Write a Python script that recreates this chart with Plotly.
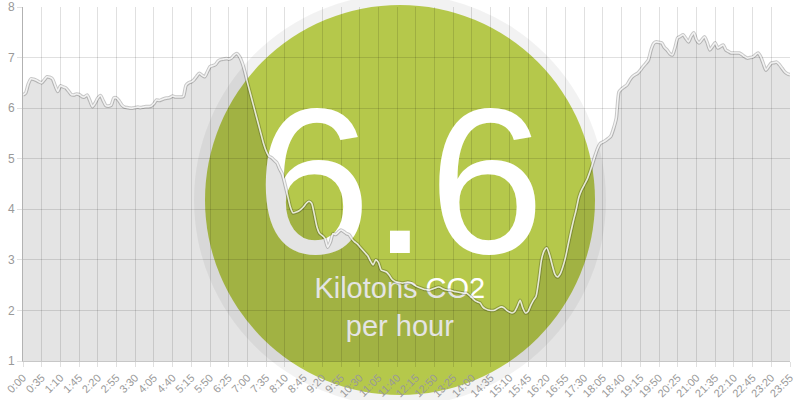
import plotly.graph_objects as go

# ---- data ----
times = [f"{m // 60}:{m % 60:02d}" for m in range(0, 24 * 60, 5)]

emissions = [
    6.26, 6.30, 6.48, 6.58, 6.57, 6.55, 6.52, 6.50, 6.56, 6.62, 6.61, 6.58,
    6.45, 6.33, 6.44, 6.42, 6.40, 6.34, 6.27, 6.26, 6.28, 6.27, 6.23, 6.22,
    6.26, 6.15, 6.03, 6.10, 6.20, 6.25, 6.15, 6.05, 6.04, 6.06, 6.20, 6.20,
    6.14, 6.06, 6.02, 6.01, 6.00, 6.00, 6.01, 6.02, 6.01, 6.02, 6.03, 6.03,
    6.04, 6.09, 6.16, 6.15, 6.17, 6.19, 6.20, 6.21, 6.24, 6.22, 6.22, 6.22,
    6.23, 6.45, 6.50, 6.52, 6.56, 6.63, 6.69, 6.65, 6.62, 6.72, 6.82, 6.84,
    6.86, 6.93, 6.96, 6.97, 6.98, 6.97, 6.99, 7.05, 7.08, 7.02, 6.90, 6.72,
    6.50, 6.30, 6.10, 5.90, 5.70, 5.50, 5.30, 5.15, 5.05, 5.02, 4.97, 4.92,
    4.80, 4.70, 4.50, 4.28, 4.05, 3.93, 3.94, 3.96, 4.00, 4.05, 4.12, 4.16,
    4.12, 3.90, 3.65, 3.52, 3.48, 3.42, 3.25, 3.35, 3.52, 3.50, 3.55, 3.59,
    3.56, 3.52, 3.50, 3.42, 3.36, 3.32, 3.26, 3.20, 3.14, 3.08, 2.98, 2.90,
    3.00, 2.95, 2.80, 2.78, 2.76, 2.70, 2.62, 2.58, 2.56, 2.55, 2.54, 2.55,
    2.56, 2.55, 2.52, 2.48, 2.46, 2.44, 2.42, 2.41, 2.40, 2.42, 2.44, 2.46,
    2.46, 2.43, 2.41, 2.40, 2.40, 2.38, 2.37, 2.36, 2.35, 2.34, 2.34, 2.30,
    2.25, 2.20, 2.17, 2.15, 2.07, 2.03, 2.01, 2.00, 2.00, 2.02, 2.05, 2.07,
    2.05, 2.00, 1.97, 1.95, 1.98, 2.08, 2.20, 2.05, 1.95, 1.98, 2.10, 2.20,
    2.28, 2.60, 3.00, 3.18, 3.24, 3.10, 2.90, 2.72, 2.66, 2.72, 2.86, 3.05,
    3.30, 3.55, 3.78, 3.99, 4.24, 4.38, 4.48, 4.58, 4.72, 4.88, 5.05, 5.20,
    5.30, 5.33, 5.36, 5.40, 5.45, 5.60, 5.80, 6.32, 6.38, 6.42, 6.46, 6.55,
    6.62, 6.66, 6.69, 6.75, 6.82, 6.88, 6.95, 7.15, 7.28, 7.31, 7.30, 7.29,
    7.20, 7.15, 7.08, 7.05, 7.20, 7.39, 7.42, 7.45, 7.38, 7.31, 7.42, 7.49,
    7.35, 7.29, 7.35, 7.41, 7.30, 7.15, 7.22, 7.29, 7.19, 7.22, 7.25, 7.15,
    7.12, 7.09, 7.09, 7.09, 7.09, 7.06, 7.02, 6.99, 7.00, 7.01, 7.05, 7.09,
    7.02, 6.88, 6.75, 6.82, 6.89, 6.90, 6.91, 6.86, 6.79, 6.72, 6.68, 6.66,
]

tick_labels = [
    "0:00", "0:35", "1:10", "1:45", "2:20", "2:55", "3:30", "4:05", "4:40",
    "5:15", "5:50", "6:25", "7:00", "7:35", "8:10", "8:45", "9:20", "9:55",
    "10:30", "11:05", "11:40", "12:15", "12:50", "13:25", "14:00", "14:35",
    "15:10", "15:45", "16:20", "16:55", "17:30", "18:05", "18:40", "19:15",
    "19:50", "20:25", "21:00", "21:35", "22:10", "22:45", "23:20", "23:55",
]

y_ticks = [1, 2, 3, 4, 5, 6, 7, 8]

big_value = "6.6"
unit_text = "Kilotons CO2<br>per hour"
label_x = "11:45"

# ---- layout constants (pixels) ----
W, H = 800, 400
ML, MR, MT, MB = 23, 10, 7, 39
PW, PH = W - ML - MR, H - MT - MB
CX, CY = 400, 200
R_GREEN, R_HALO = 195, 206


def px_x(p):
    return (p - ML) / PW


def px_y(p):
    return (H - MB - p) / PH


FONT = "Liberation Sans, Arial, Helvetica, sans-serif"

fig = go.Figure()

# text drawn first so the area fill tints it
fig.add_trace(go.Scatter(
    x=[label_x], y=[4.17], mode="text", text=[big_value],
    textposition="middle center",
    textfont=dict(size=208, color="white", family=FONT),
    hoverinfo="skip", showlegend=False, cliponaxis=False,
))
fig.add_trace(go.Scatter(
    x=[label_x], y=[2.02], mode="text", text=[unit_text],
    textposition="middle center",
    textfont=dict(size=29, color="white", family=FONT),
    hoverinfo="skip", showlegend=False, cliponaxis=False,
))

# area fill
fig.add_trace(go.Scatter(
    x=times, y=emissions, mode="lines", fill="tozeroy",
    fillcolor="rgba(0,0,0,0.105)", line=dict(width=0, color="rgba(0,0,0,0)"),
    hoverinfo="skip", showlegend=False,
))
# outline of line
fig.add_trace(go.Scatter(
    x=times, y=emissions, mode="lines",
    line=dict(width=3.6, color="rgba(0,0,0,0.22)", shape="spline", smoothing=0.6),
    hoverinfo="skip", showlegend=False,
))
# white center of line
fig.add_trace(go.Scatter(
    x=times, y=emissions, mode="lines",
    line=dict(width=1.6, color="rgba(255,255,255,0.8)", shape="spline", smoothing=0.6),
    hoverinfo="skip", showlegend=False,
))

shapes = [
    dict(type="circle", xref="paper", yref="paper", layer="below",
         x0=px_x(CX - R_HALO), x1=px_x(CX + R_HALO),
         y0=px_y(CY + R_HALO), y1=px_y(CY - R_HALO),
         fillcolor="rgba(0,0,0,0.05)", line=dict(width=0)),
    dict(type="circle", xref="paper", yref="paper", layer="below",
         x0=px_x(CX - R_GREEN), x1=px_x(CX + R_GREEN),
         y0=px_y(CY + R_GREEN), y1=px_y(CY - R_GREEN),
         fillcolor="rgb(181,200,75)", line=dict(width=0)),
]

fig.update_layout(
    width=W, height=H,
    margin=dict(l=ML, r=MR, t=MT, b=MB, pad=0),
    paper_bgcolor="white",
    plot_bgcolor="rgba(0,0,0,0)",
    shapes=shapes,
    showlegend=False,
    hovermode=False,
    font=dict(family=FONT, color="#999999", size=11),
    xaxis=dict(
        type="category", categoryorder="array", categoryarray=times,
        range=[0, len(times) - 1],
        tickmode="array", tickvals=tick_labels, ticktext=tick_labels,
        tickangle=-45, tickfont=dict(size=11, color="#999999"),
        showgrid=True, gridcolor="rgba(0,0,0,0.12)", gridwidth=1,
        ticks="outside", ticklen=5, tickcolor="rgba(0,0,0,0.12)",
        showline=True, linecolor="rgba(0,0,0,0.22)", linewidth=1,
        automargin=False, zeroline=False, fixedrange=True,
    ),
    yaxis=dict(
        range=[1, 8], tickmode="array", tickvals=y_ticks,
        tickfont=dict(size=12, color="#999999"),
        showgrid=True, gridcolor="rgba(0,0,0,0.12)", gridwidth=1,
        ticks="outside", ticklen=5, tickcolor="rgba(0,0,0,0.12)",
        showline=True, linecolor="rgba(0,0,0,0.3)", linewidth=1,
        automargin=False, zeroline=False, fixedrange=True,
    ),
)

fig.write_html(
    "out.html",
    config={"displayModeBar": False},
    post_script="document.body.style.margin='0';document.body.style.padding='0';",
)
